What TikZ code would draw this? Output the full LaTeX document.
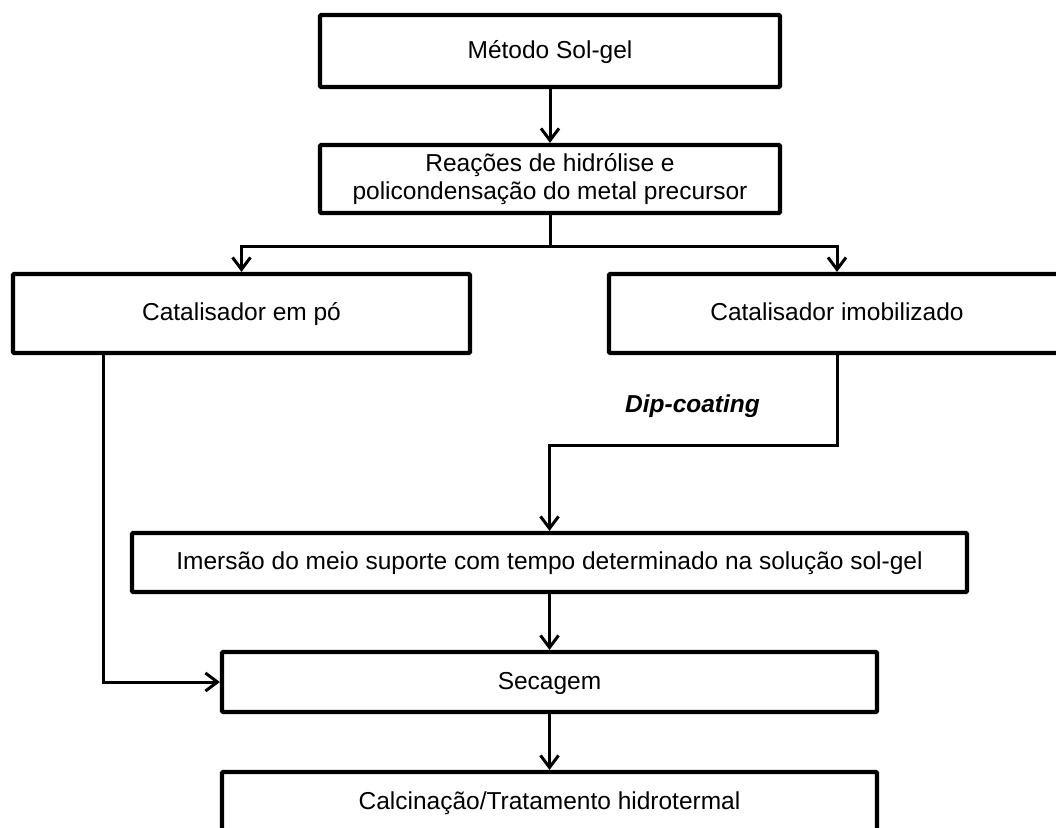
\documentclass[tikz,border=0pt]{standalone}
\usepackage{fontspec}
\setmainfont{Liberation Sans}
\usetikzlibrary{arrows.meta}
\tikzset{
  box/.style={draw=black, line width=4.2pt, rounded corners=1.2pt, fill=white,
    inner sep=0pt, align=center, font=\fontsize{24.5}{28}\selectfont,
    text height=18pt, text depth=4pt},
  arr/.style={draw=black, line width=3pt, line join=miter,
    -{Straight Barb[length=12pt,width=18pt,line width=3pt]}},
  conn/.style={draw=black, line width=3pt},
  lbl/.style={font=\fontsize{24.5}{28}\selectfont\bfseries\itshape, inner sep=0pt}
}
\begin{document}
\begin{tikzpicture}[x=1pt,y=-1pt]
\useasboundingbox (0,0) rectangle (1056,827);
\clip (0,0) rectangle (1056,827);
\fill[white] (0,0) rectangle (1056,827);
\node[box, minimum width=460pt, minimum height=72pt] (b1) at (550,51) {Método Sol-gel};
\node[box, minimum width=460pt, minimum height=68pt, text height=, text depth=] (b2) at (550,179) {Reações de hidrólise e\\policondensação do metal precursor};
\node[box, minimum width=457pt, minimum height=79pt] (left) at (241.5,313.5) {Catalisador em pó};
\node[box, minimum width=456pt, minimum height=79pt] (right) at (837,313.5) {Catalisador imobilizado};
\node[box, minimum width=835pt, minimum height=59pt] (imm) at (549.5,562.5) {Imersão do meio suporte com tempo determinado na solução sol-gel};
\node[box, minimum width=655pt, minimum height=60pt] (sec) at (549.5,682) {Secagem};
\node[box, minimum width=655pt, minimum height=60pt] (cal) at (549.5,802) {Calcinação/Tratamento hidrotermal};
\node[lbl] (dip) at (692.5,406) {Dip-coating};
\coordinate (lx) at (103,353);
\draw[arr] (b1.south) -- (b2.north);
\draw[conn] (b2.south) -- ++(0,31) coordinate (split);
\draw[arr] (split) -| (left.north);
\draw[arr] (split) -| (right.north);
\draw[arr] (left.south -| lx) |- (sec.west);
\draw[arr] (right.south) -- ++(0,90) -| (imm.north);
\draw[arr] (imm.south) -- (sec.north);
\draw[arr] (sec.south) -- (cal.north);
\end{tikzpicture}
\end{document}
